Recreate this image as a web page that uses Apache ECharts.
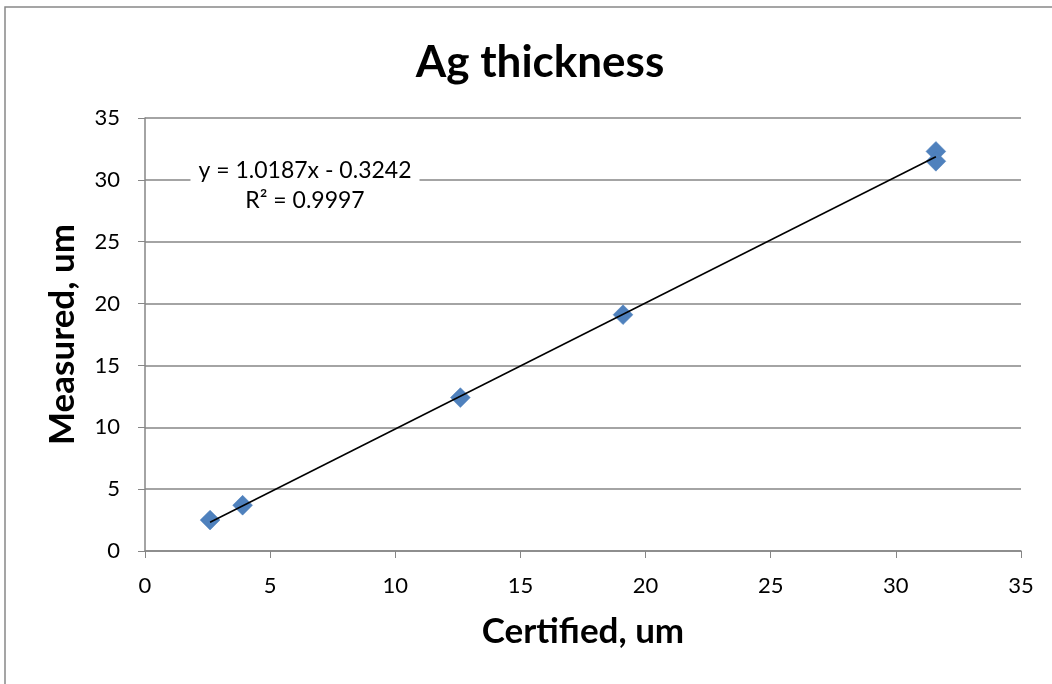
<!DOCTYPE html>
<html>
<head>
<meta charset="utf-8">
<script src="https://cdn.jsdelivr.net/npm/echarts@6/dist/echarts.min.js"></script>
<style>html,body{margin:0;padding:0;background:#fff}#c{width:1052px;height:684px}</style>
</head>
<body>
<div id="c"></div>
<script>
const certified = [2.6, 3.9, 12.6, 19.1, 31.6, 31.6];
const measured  = [2.5, 3.7, 12.4, 19.1, 32.3, 31.5];
const trendSlope = 1.0187;
const trendIntercept = -0.3242;
const trendLabel = ['y = 1.0187x - 0.3242', 'R² = 0.9997'];
const titleText = 'Ag thickness';
const xName = 'Certified, um';
const yName = 'Measured, um';

const pts = certified.map((x, i) => [x, measured[i]]);
const xMin = Math.min(...certified), xMax = Math.max(...certified);
const trend = [[xMin, trendSlope * xMin + trendIntercept], [xMax, trendSlope * xMax + trendIntercept]];

const FONT = 'Lato';
const chart = echarts.init(document.getElementById('c'));
chart.setOption({
  animation: false,
  title: { text: titleText, left: 535, top: 36, textAlign: 'center',
    textStyle: { fontFamily: FONT, fontWeight: 'bold', fontSize: 44, color: '#000' } },
  grid: { left: 145, right: 31, top: 118, bottom: 133 },
  xAxis: {
    type: 'value', min: 0, max: 35, interval: 5,
    name: xName, nameLocation: 'middle', nameGap: 63,
    nameTextStyle: { fontFamily: FONT, fontWeight: 'bold', fontSize: 35, color: '#000' },
    axisLine: { lineStyle: { color: '#868686', width: 1.5 } },
    axisTick: { show: true, length: 7, lineStyle: { color: '#868686' } },
    axisLabel: { fontFamily: FONT, fontSize: 22, color: '#000', margin: 24 },
    splitLine: { show: false }
  },
  yAxis: {
    type: 'value', min: 0, max: 35, interval: 5,
    name: yName, nameLocation: 'middle', nameGap: 65,
    nameTextStyle: { fontFamily: FONT, fontWeight: 'bold', fontSize: 35, color: '#000' },
    axisLine: { show: true, lineStyle: { color: '#868686', width: 1.5 } },
    axisTick: { show: true, length: 7, lineStyle: { color: '#868686' } },
    axisLabel: { fontFamily: FONT, fontSize: 22, color: '#000', margin: 25 },
    splitLine: { lineStyle: { color: '#868686', width: 1.5 } }
  },
  series: [
    { type: 'line', data: trend, symbol: 'none', lineStyle: { color: '#000', width: 1.5 }, z: 3 },
    { type: 'scatter', data: pts, symbol: 'rect', symbolRotate: 45, symbolSize: 14,
      itemStyle: { color: '#4F81BD', opacity: 1, borderColor: '#4A7EBB', borderWidth: 0.5 }, z: 2 }
  ],
  graphic: [
    { type: 'rect', shape: { x: 5, y: 7, width: 1200, height: 800 }, style: { fill: 'none', stroke: '#888', lineWidth: 1.5 }, silent: true },
    { type: 'text', x: 305, y: 156, z: 10,
      style: { text: trendLabel.join('\n'), align: 'center', fontFamily: FONT, fontSize: 23, lineHeight: 30, fill: '#000',
        backgroundColor: '#fff', padding: [0, 8] } }
  ]
});
</script>
</body>
</html>
